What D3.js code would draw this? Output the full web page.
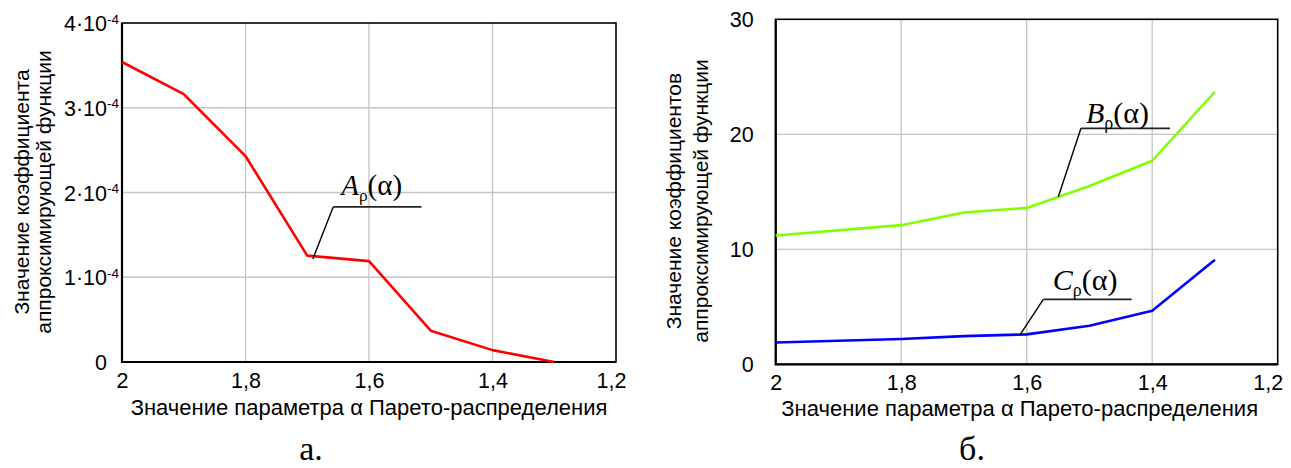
<!DOCTYPE html>
<html>
<head>
<meta charset="utf-8">
<script src="https://cdn.jsdelivr.net/npm/d3@7"></script>
<style>
  html, body { margin: 0; padding: 0; background: #fff; }
  svg { display: block; }
  text { font-family: "Liberation Sans", Arial, sans-serif; fill: #000; }
  .serif { font-family: "Liberation Serif", "Times New Roman", serif; }
</style>
</head>
<body>
<svg id="chart" width="1291" height="468"></svg>
<script>
// ---------------- data ----------------
const alphaA = [2, 1.9, 1.8, 1.7, 1.6, 1.5, 1.4, 1.3];
const valuesA = [3.54e-4, 3.16e-4, 2.43e-4, 1.255e-4, 1.19e-4, 0.37e-4, 0.14e-4, 0.0];

const alphaBC = [2, 1.8, 1.7, 1.6, 1.5, 1.4, 1.3];
const valuesB = [11.2, 12.1, 13.2, 13.6, 15.5, 17.7, 23.7];
const valuesC = [1.9, 2.2, 2.45, 2.6, 3.35, 4.65, 9.1];

const xTicks = [2, 1.8, 1.6, 1.4, 1.2];
const xTickLabels = ["2", "1,8", "1,6", "1,4", "1,2"];
const yTicksA = [0, 1e-4, 2e-4, 3e-4, 4e-4];
const yTickLabelsA = [["0", ""], ["1·10", "-4"], ["2·10", "-4"], ["3·10", "-4"], ["4·10", "-4"]];
const yTicksBC = [0, 10, 20, 30];
const yTickLabelsBC = ["0", "10", "20", "30"];

const xTitle = "Значение параметра α Парето-распределения";
const yTitleA = ["Значение коэффициента", "аппроксимирующей функции"];
const yTitleBC = ["Значение коэффициентов", "аппроксимирующей функции"];
const panelLabels = ["а.", "б."];
const seriesNames = ["A", "B", "C"];

// ---------------- layout ----------------
const svg = d3.select("#chart");
const TICK_FS = 21.5, TITLE_FS = 22, YTITLE_FS = 21;

function panel(opts) {
  const g = svg.append("g");
  const x = d3.scaleLinear().domain([2, 1.2]).range([opts.x0, opts.x1]);
  const y = d3.scaleLinear().domain(opts.yDomain).range([opts.y1, opts.y0]);

  // grid
  g.append("g").selectAll("line").data(xTicks.slice(1, -1)).join("line")
    .attr("x1", d => x(d)).attr("x2", d => x(d))
    .attr("y1", opts.y0).attr("y2", opts.y1)
    .attr("stroke", "#c4c4c4").attr("stroke-width", 1.3);
  g.append("g").selectAll("line").data(opts.yTicks.slice(1, -1)).join("line")
    .attr("x1", opts.x0).attr("x2", opts.x1)
    .attr("y1", d => y(d)).attr("y2", d => y(d))
    .attr("stroke", "#c4c4c4").attr("stroke-width", 1.3);

  // frame
  g.append("rect").attr("x", opts.x0).attr("y", opts.y0)
    .attr("width", opts.x1 - opts.x0).attr("height", opts.y1 - opts.y0)
    .attr("fill", "none").attr("stroke", "#000").attr("stroke-width", 1.6);
  g.append("path")
    .attr("d", `M${opts.x0},${opts.y0}V${opts.y1}H${opts.x1}`)
    .attr("fill", "none").attr("stroke", "#000").attr("stroke-width", 2.2);

  // x axis via d3 axis
  const xa = g.append("g").attr("transform", `translate(0,${opts.y1})`)
    .call(d3.axisBottom(x).tickValues(xTicks).tickSize(0)
      .tickFormat((d, i) => xTickLabels[i]));
  xa.select(".domain").remove();
  xa.selectAll("text").attr("y", opts.xTickBase).attr("dy", 0)
    .attr("font-size", TICK_FS).attr("font-family", "Liberation Sans, Arial, sans-serif")
    .attr("x", (d, i) => (i === xTicks.length - 1 ? opts.lastTickDx : 0));

  // y axis via d3 axis
  const ya = g.append("g").attr("transform", `translate(${opts.x0},0)`)
    .call(d3.axisLeft(y).tickValues(opts.yTicks).tickSize(0).tickFormat(""));
  ya.select(".domain").remove();
  ya.selectAll(".tick").each(function(d, i) {
    const t = d3.select(this);
    t.selectAll("text").remove();
    const lab = opts.yLabels[i];
    const txt = t.append("text")
      .attr("font-size", TICK_FS).attr("font-family", "Liberation Sans, Arial, sans-serif")
      .attr("fill", "#000").attr("text-anchor", "end")
      .attr("x", -opts.yLabelGap).attr("y", 7.5);
    if (Array.isArray(lab)) {
      txt.text(lab[0]);
      if (lab[1]) {
        t.append("text").attr("font-size", 13.5)
          .attr("font-family", "Liberation Sans, Arial, sans-serif")
          .attr("fill", "#000").attr("text-anchor", "start")
          .attr("x", -opts.yLabelGap).attr("y", 0).text(lab[1]);
      }
    } else {
      txt.text(lab);
    }
  });

  // x title
  g.append("text").attr("x", (opts.x0 + opts.x1) / 2 + opts.xTitleDx).attr("y", opts.xTitleBase)
    .attr("text-anchor", "middle").attr("font-size", TITLE_FS).text(xTitle);

  // y title (two lines, rotated)
  const yt = g.append("text").attr("text-anchor", "middle").attr("font-size", YTITLE_FS)
    .attr("transform", `translate(${opts.yTitleX},${opts.yTitleY}) rotate(-90)`);
  opts.yTitle.forEach((line, i) => {
    yt.append("tspan").attr("x", 0).attr("y", i * opts.yTitleGap).text(line);
  });

  // panel label
  g.append("text").attr("class", "serif")
    .attr("x", opts.panelX).attr("y", 460).attr("text-anchor", "middle")
    .attr("font-size", 34).text(opts.panelLabel);

  return { g, x, y };
}

function drawSeries(p, xs, ys, color) {
  const line = d3.line().x((d, i) => p.x(xs[i])).y(d => p.y(d));
  p.g.append("path").datum(ys).attr("d", line)
    .attr("fill", "none").attr("stroke", color).attr("stroke-width", 2.6)
    .attr("stroke-linejoin", "round");
}

function annotate(p, a) {
  p.g.append("path")
    .attr("d", `M${p.x(a.tip[0])},${p.y(a.tip[1])}L${p.x(a.elbow[0])},${p.y(a.elbow[1])}`)
    .attr("stroke", "#000").attr("stroke-width", 1.4).attr("fill", "none");
  p.g.append("path")
    .attr("d", `M${p.x(a.elbow[0])},${p.y(a.elbow[1])}H${p.x(a.endX)}`)
    .attr("stroke", "#222").attr("stroke-width", 1.8).attr("fill", "none");
  const t = p.g.append("text").attr("class", "serif")
    .attr("x", p.x(a.label[0])).attr("y", p.y(a.label[1]))
    .attr("font-size", a.size);
  t.append("tspan").attr("font-style", "italic").text(a.name);
  t.append("tspan").attr("font-size", a.size * 0.6).attr("dy", a.size * 0.2).text("ρ");
  t.append("tspan").attr("dy", -a.size * 0.2).text("(α)");
}

// ---------------- panel a ----------------
const pA = panel({
  x0: 122, x1: 616, y0: 23, y1: 362,
  yDomain: [0, 4e-4], yTicks: yTicksA, yLabels: yTickLabelsA, yLabelGap: 15,
  xTickBase: 26, xTitleBase: 415, xTitleDx: 0, lastTickDx: -5,
  yTitle: yTitleA, yTitleX: 29, yTitleY: 192, yTitleGap: 22,
  panelX: 311, panelLabel: panelLabels[0]
});
drawSeries(pA, alphaA, valuesA, "#ff0000");
annotate(pA, { name: seriesNames[0], tip: [1.691, 1.215e-4], elbow: [1.658, 1.83e-4],
  endX: 1.515, label: [1.645, 1.97e-4], size: 29 });

// ---------------- panel b ----------------
const pB = panel({
  x0: 775.7, x1: 1277.7, y0: 19.3, y1: 364.3,
  yDomain: [0, 30], yTicks: yTicksBC, yLabels: yTickLabelsBC, yLabelGap: 22,
  xTickBase: 26, xTitleBase: 416, xTitleDx: -7, lastTickDx: -10,
  yTitle: yTitleBC, yTitleX: 681, yTitleY: 201, yTitleGap: 27,
  panelX: 972, panelLabel: panelLabels[1]
});
drawSeries(pB, alphaBC, valuesB, "#80ff00");
drawSeries(pB, alphaBC, valuesC, "#0000ff");
annotate(pB, { name: seriesNames[1], tip: [1.5496, 14.57], elbow: [1.5135, 20.52],
  endX: 1.3716, label: [1.5055, 20.98], size: 30 });
annotate(pB, { name: seriesNames[2], tip: [1.6107, 2.55], elbow: [1.5735, 5.65],
  endX: 1.4327, label: [1.5586, 6.46], size: 30 });
</script>
</body>
</html>
